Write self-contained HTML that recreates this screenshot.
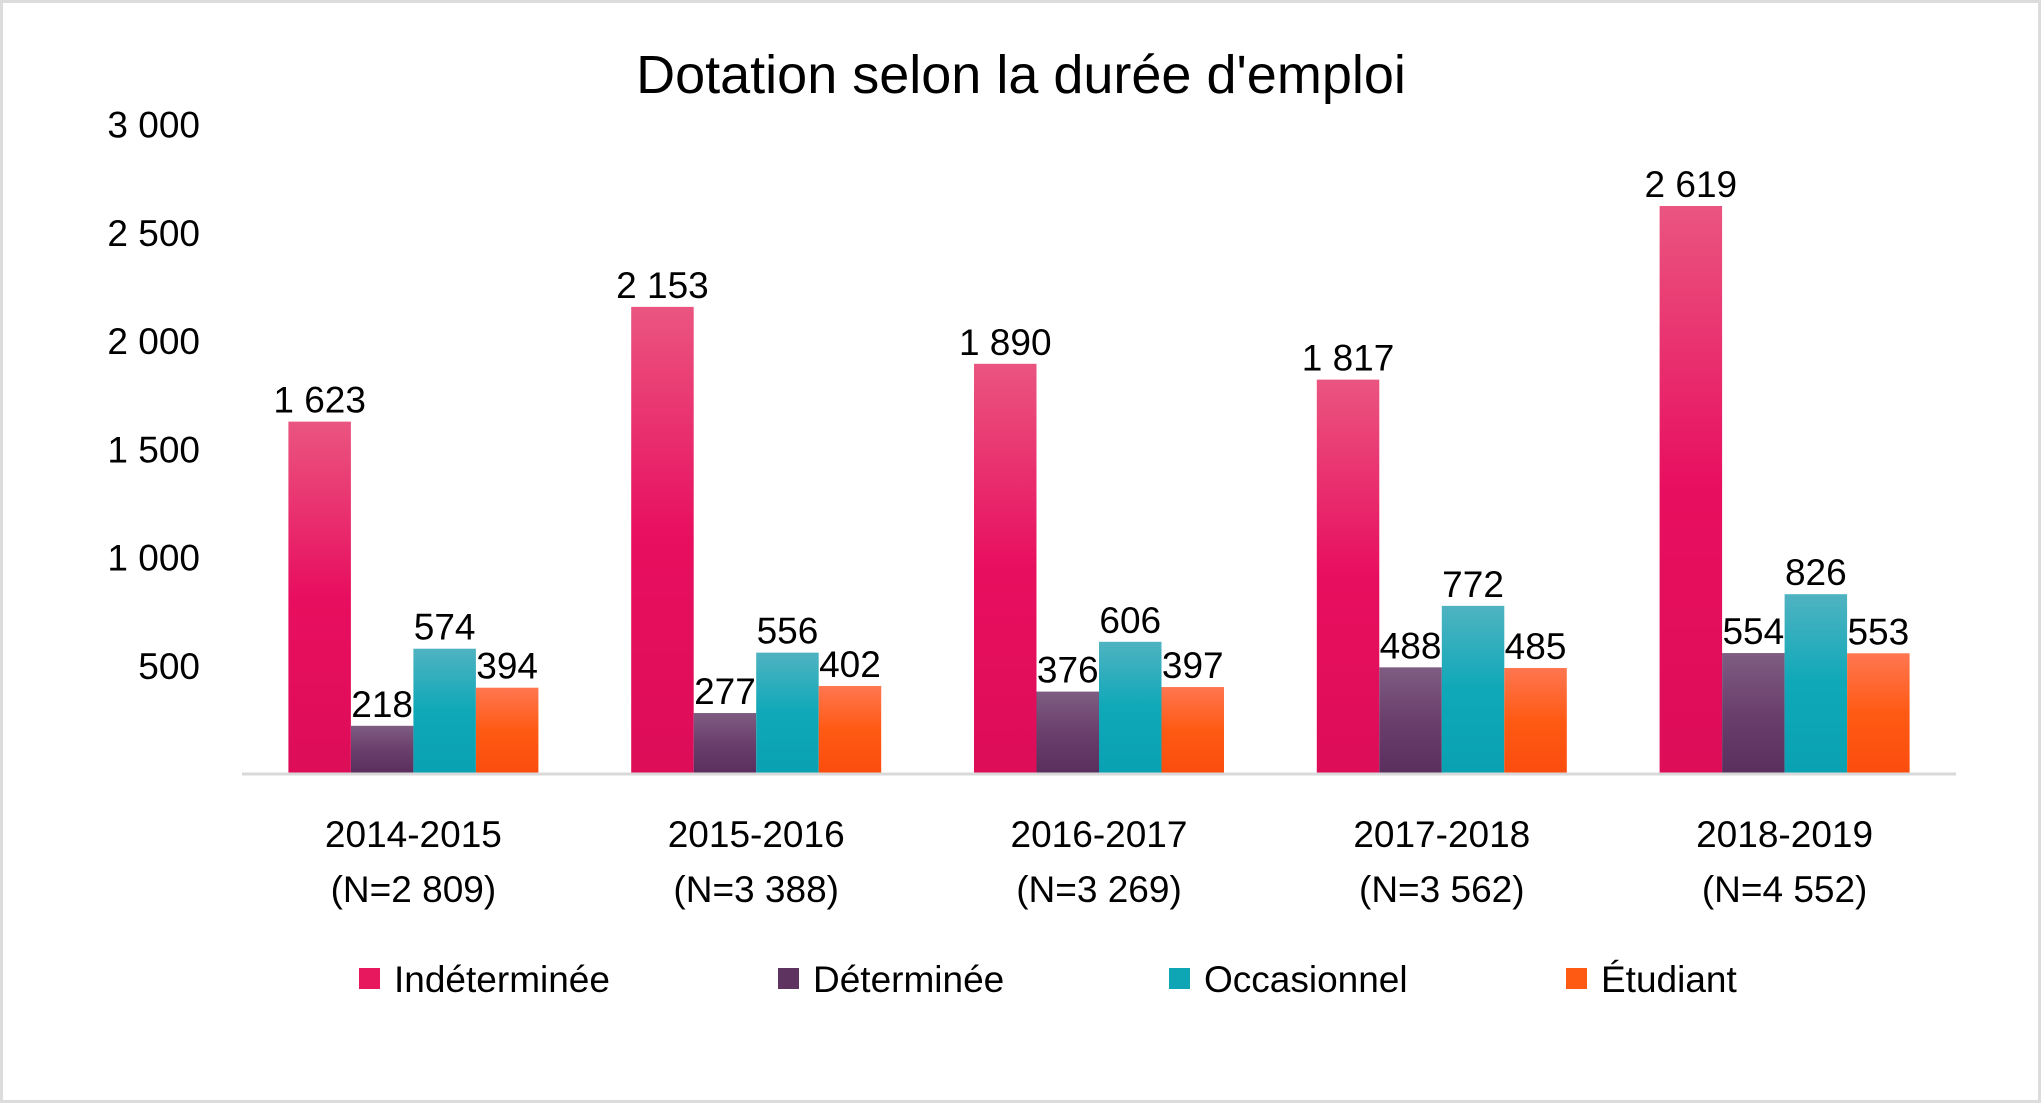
<!DOCTYPE html>
<html><head><meta charset="utf-8"><style>
html,body{margin:0;padding:0;background:#fff}
svg{display:block}
text{font-family:"Liberation Sans",sans-serif;fill:#000}
</style></head><body>
<svg id="chart" width="2041" height="1103" viewBox="0 0 2041 1103" xmlns="http://www.w3.org/2000/svg">
<defs>
<linearGradient id="g0" x1="0" y1="0" x2="0" y2="1"><stop offset="0" stop-color="#ea5580"/><stop offset="0.5" stop-color="#e80e5f"/><stop offset="1" stop-color="#dd0d58"/></linearGradient>
<linearGradient id="g1" x1="0" y1="0" x2="0" y2="1"><stop offset="0" stop-color="#7e5d82"/><stop offset="0.5" stop-color="#6a3f6c"/><stop offset="1" stop-color="#5a2f5e"/></linearGradient>
<linearGradient id="g2" x1="0" y1="0" x2="0" y2="1"><stop offset="0" stop-color="#4fb3c1"/><stop offset="0.5" stop-color="#0ea8b8"/><stop offset="1" stop-color="#0aa2b2"/></linearGradient>
<linearGradient id="g3" x1="0" y1="0" x2="0" y2="1"><stop offset="0" stop-color="#ff7650"/><stop offset="0.5" stop-color="#ff5a14"/><stop offset="1" stop-color="#fb4d0e"/></linearGradient>
</defs>
<rect x="1.5" y="1.5" width="2038" height="1100" fill="#fff" stroke="#dcdcdc" stroke-width="3"/>
<text x="1021" y="93" font-size="54" text-anchor="middle">Dotation selon la durée d'emploi</text>
<g id="yaxis"></g>
<g id="bars"></g>
<line x1="242" y1="774" x2="1956" y2="774" stroke="#d9d9d9" stroke-width="3"/>
<g id="xaxis"></g>
<g id="legend"></g>
</svg>
<script>
const categories = ["2014-2015","2015-2016","2016-2017","2017-2018","2018-2019"];
const totals = ["(N=2 809)","(N=3 388)","(N=3 269)","(N=3 562)","(N=4 552)"];
const seriesNames = ["Indéterminée","Déterminée","Occasionnel","Étudiant"];
const indetermineeValues = [1623,2153,1890,1817,2619];
const determineeValues = [218,277,376,488,554];
const occasionnelValues = [574,556,606,772,826];
const etudiantValues = [394,402,397,485,553];
const yTicks = [500,1000,1500,2000,2500,3000];

const series=[indetermineeValues,determineeValues,occasionnelValues,etudiantValues];
const fills=["url(#g0)","url(#g1)","url(#g2)","url(#g3)"];
const legendColors=["#e8185f","#5f3360","#0ea6b5","#ff5a14"];
const NS="http://www.w3.org/2000/svg";
const x0=242,x1=1956,base=773,k=0.2165,bw=62.5;
const bandW=(x1-x0)/categories.length;
function y(v){return base-v*k;}
function bx(ci,si){return x0+ci*bandW+bandW/2-2*bw+si*bw;}
function fmt(v){return String(v).replace(/\B(?=(\d{3})+(?!\d))/g," ");}
function mk(tag,attrs,parent,txt){const e=document.createElementNS(NS,tag);for(const a in attrs)e.setAttribute(a,attrs[a]);if(txt!==undefined)e.textContent=txt;parent.appendChild(e);return e;}
const ya=document.getElementById('yaxis');
yTicks.forEach(t=>{
  const e=mk('text',{x:200,y:y(t)+14,'font-size':37,'text-anchor':'end'},ya,fmt(t));
  
  
});
const bg=document.getElementById('bars');
categories.forEach((c,ci)=>{
  series.forEach((s,si)=>{
    const v=s[ci];
    const r=mk('rect',{x:bx(ci,si),y:y(v),width:bw,height:base-y(v),fill:fills[si]},bg);
    
    
    const t=mk('text',{x:bx(ci,si)+bw/2,y:y(v)-9,'font-size':37,'text-anchor':'middle'},bg,fmt(v));
    
    
  });
});
const xa=document.getElementById('xaxis');
categories.forEach((c,ci)=>{
  const cx=x0+ci*bandW+bandW/2;
  const t=mk('text',{x:cx,y:847,'font-size':37,'text-anchor':'middle'},xa,c);
  
  
  const n=mk('text',{x:cx,y:902,'font-size':37,'text-anchor':'middle'},xa,totals[ci]);
  
  
});
const lg=document.getElementById('legend');
const lx=[359,778,1169,1566];
seriesNames.forEach((n,i)=>{
  const g=mk('g',{},lg);
  
  
  mk('rect',{x:lx[i],y:968,width:21,height:21,fill:legendColors[i]},g);
  mk('text',{x:lx[i]+35,y:992,'font-size':37},g,n);
});
</script>
</body></html>
